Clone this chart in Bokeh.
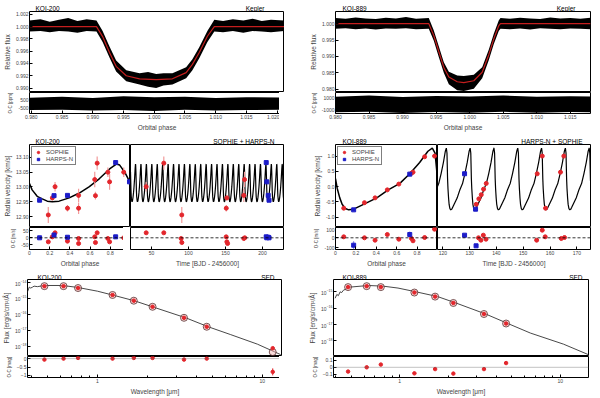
import numpy as np
from bokeh.plotting import figure
from bokeh.layouts import row, column
from bokeh.models import (Range1d, FixedTicker, Legend, LegendItem,
                          BasicTickFormatter, PrintfTickFormatter, Span)
from bokeh.core.properties import value
from bokeh.embed import file_html
from bokeh.resources import INLINE

# ---------------- data ----------------
# Row 1: phase-folded Kepler transits
lc200_phase = [0.9797, 0.9906, 0.9916, 0.9927, 0.9938, 0.99545, 0.99761, 1.00032, 1.00296, 1.00519, 1.00621, 1.00735, 1.00865, 1.00978, 1.0212]
lc200_model = [1.0, 1.0, 0.99838, 0.99583, 0.99354, 0.99201, 0.99151, 0.99136, 0.99151, 0.99252, 0.99385, 0.99583, 0.99843, 1.0, 1.0]
lc200_env_phase = [0.9797, 0.9815, 0.9830, 0.9845, 0.9860, 0.9875, 0.9890, 0.9906, 0.9916, 0.9927, 0.9938, 0.99545, 0.99761, 0.9990, 1.00032, 1.0015, 1.00296, 1.00519, 1.00621, 1.00735, 1.00865, 1.00978, 1.0112, 1.0128, 1.0145, 1.0160, 1.0175, 1.0190, 1.0212]
lc200_hi = [1.0010, 1.0012, 1.0008, 1.0011, 1.0014, 1.0009, 1.0012, 1.0010, 0.9993, 0.9968, 0.9945, 0.9929, 0.9924, 0.9926, 0.9923, 0.9924, 0.9924, 0.9934, 0.9947, 0.9967, 0.9993, 1.0011, 1.0009, 1.0012, 1.0010, 1.0013, 1.0009, 1.0011, 1.0010]
lc200_lo = [0.9992, 0.9993, 0.9991, 0.9993, 0.9992, 0.9990, 0.9993, 0.9992, 0.9975, 0.9950, 0.9927, 0.9911, 0.9906, 0.9902, 0.9900, 0.9904, 0.9906, 0.9916, 0.9929, 0.9949, 0.9975, 0.9992, 0.9991, 0.9993, 0.9990, 0.9993, 0.9992, 0.9991, 0.9993]
lc200_res_phase = [0.9797, 0.9850, 0.9900, 0.9950, 1.0000, 1.0050, 1.0100, 1.0150, 1.0212]
lc200_res_hi = [750, 850, 700, 900, 800, 850, 700, 800, 750]
lc200_res_lo = [-700, -650, -750, -700, -800, -650, -750, -700, -650]
lc200_xticks = [0.980, 0.985, 0.990, 0.995, 1.000, 1.005, 1.010, 1.015, 1.020]
lc200_yticks = [0.990, 0.992, 0.994, 0.996, 0.998, 1.000, 1.002]
lc200_res_ticks = [-500, 500]

lc889_phase = [0.980, 0.9939, 0.99465, 0.99539, 0.99614, 0.99689, 0.99814, 0.99912, 1.00061, 1.00186, 1.00285, 1.00359, 1.00434, 1.00459, 1.018]
lc889_model = [1.0, 1.0, 0.99634, 0.99148, 0.98663, 0.98372, 0.98227, 0.98198, 0.98256, 0.98517, 0.99052, 0.99535, 0.99942, 1.0, 1.0]
lc889_env_phase = [0.980, 0.9815, 0.9830, 0.9845, 0.9860, 0.9875, 0.9890, 0.9905, 0.9920, 0.9939, 0.99465, 0.99539, 0.99614, 0.99689, 0.99814, 0.99912, 1.00061, 1.00186, 1.00285, 1.00359, 1.00434, 1.00459, 1.0060, 1.0075, 1.0090, 1.0105, 1.0120, 1.0135, 1.0150, 1.0165, 1.018]
lc889_hi = [1.0017, 1.0015, 1.0019, 1.0016, 1.0014, 1.0018, 1.0016, 1.0020, 1.0015, 1.0017, 0.9979, 0.9931, 0.9882, 0.9853, 0.9842, 0.9840, 0.9844, 0.9867, 0.9921, 0.9969, 1.0010, 1.0017, 1.0015, 1.0018, 1.0016, 1.0014, 1.0019, 1.0016, 1.0017, 1.0015, 1.0018]
lc889_lo = [0.9984, 0.9986, 0.9983, 0.9985, 0.9982, 0.9985, 0.9984, 0.9986, 0.9983, 0.9984, 0.9948, 0.9898, 0.9850, 0.9815, 0.9797, 0.9794, 0.9801, 0.9833, 0.9889, 0.9938, 0.9978, 0.9984, 0.9983, 0.9985, 0.9982, 0.9986, 0.9984, 0.9983, 0.9985, 0.9984, 0.9983]
lc889_res_phase = [0.980, 0.985, 0.990, 0.995, 1.000, 1.005, 1.010, 1.015, 1.018]
lc889_res_hi = [1300, 1500, 1250, 1450, 1350, 1500, 1300, 1400, 1350]
lc889_res_lo = [-1400, -1300, -1500, -1350, -1450, -1300, -1450, -1350, -1400]
lc889_xticks = [0.980, 0.985, 0.990, 0.995, 1.000, 1.005, 1.010, 1.015]
lc889_yticks = [0.980, 0.985, 0.990, 0.995, 1.000]
lc889_res_ticks = [-1000, 1000]

# Row 2: radial velocities
P200 = 7.3409
T0_200 = 0.0
rv200_mph = [0.0, 0.026, 0.076, 0.126, 0.176, 0.226, 0.293, 0.393, 0.493, 0.593, 0.693, 0.793, 0.860, 0.893, 0.943, 1.0]
rv200_mv = [13.0119, 12.9903, 12.9687, 12.9603, 12.9526, 12.9506, 12.9526, 12.9635, 12.9797, 13.0010, 13.0281, 13.0603, 13.0765, 13.0732, 13.0494, 13.0119]
rv200_s_ph = [0.186, 0.226, 0.253, 0.376, 0.486, 0.486, 0.646, 0.653, 0.670, 0.776, 0.793, 0.933]
rv200_s_v = [12.9064, 12.9635, 13.0010, 12.9290, 12.9719, 12.9290, 13.0248, 12.9710, 13.0797, 13.0494, 13.0171, 13.0494]
rv200_s_e = [0.027, 0.009, 0.016, 0.011, 0.022, 0.019, 0.026, 0.013, 0.022, 0.016, 0.026, 0.016]
rv200_h_ph = [0.10, 0.243, 0.376, 0.853, 0.99]
rv200_h_v = [12.9558, 12.9710, 12.9719, 13.0816, 13.0171]
rv200_s_t = [42.8, 66.6, 90.9, 151.0, 151.8, 175.7, 174.7]
rv200_s_tv = [13.0010, 13.0797, 12.9064, 12.9290, 12.9635, 13.0248, 12.9719]
rv200_s_te = [0.016, 0.022, 0.027, 0.011, 0.009, 0.026, 0.022]
rv200_h_t = [205.0, 205.8, 207.7, 208.8]
rv200_h_tv = [13.0816, 13.0171, 12.9719, 12.9558]
res200_s_ph = [0.186, 0.226, 0.253, 0.376, 0.486, 0.486, 0.646, 0.653, 0.670, 0.776, 0.793, 0.933]
res200_s = [-29, 7, 36, -24, -5, -41, 7, -34, 36, -5, -29, 0]
res200_h_ph = [0.10, 0.243, 0.376, 0.853, 0.99]
res200_h = [0, 20, 4, 7, 0]
res200_s_t = [42.8, 66.6, 90.0, 91.0, 150.9, 151.8, 152.8, 174.7, 176.0]
res200_s_tr = [36, 36, -5, -34, 7, -29, -41, -5, 0]
res200_h_t = [205.0, 205.8, 207.7, 208.8]
res200_h_tr = [7, 0, 4, 0]
rv200_yticks = [12.90, 12.95, 13.00, 13.05, 13.10]
rv200_tticks = [50, 100, 150, 200]
res200_ticks = [-50, 0, 50]

P889 = 8.8849
T0_889 = 112.87
rv889_mph = [0.0, 0.0165, 0.0417, 0.065, 0.097, 0.129, 0.178, 0.275, 0.405, 0.517, 0.631, 0.728, 0.825, 0.906, 0.949, 0.976, 1.0]
rv889_mv = [0.2627, -0.0538, -0.3703, -0.5823, -0.7184, -0.7627, -0.7405, -0.5823, -0.3703, -0.1076, 0.1044, 0.4209, 0.7880, 1.1582, 1.2627, 1.095, 0.2627]
rv889_s_ph = [0.081, 0.284, 0.388, 0.508, 0.621, 0.745, 0.760, 0.874, 0.971]
rv889_s_v = [-0.709, -0.528, -0.370, -0.108, 0.082, 0.440, 0.472, 0.978, 1.0]
rv889_h_ph = [0.178, 0.728]
rv889_h_v = [-0.763, 0.408]
rv889_s_t = [132.46, 133.43, 134.33, 135.19, 136.19, 155.22, 157.1, 158.32, 163.9, 165.15]
rv889_s_tv = [-0.582, -0.402, -0.266, -0.085, 0.104, 0.420, 1.0, -0.709, 0.472, 1.0]
rv889_h_t = [128.1, 132.2]
rv889_h_tv = [0.421, -0.741]
res889_s_ph = [0.081, 0.284, 0.388, 0.508, 0.621, 0.745, 0.760, 0.874, 0.971]
res889_s = [10, 0, -24, 33, -14, -7, -30, 3, 86]
res889_h_ph = [0.178, 0.728]
res889_h = [-74, 33]
res889_h_e = [40, 30]
res889_s_t = [133.3, 134.2, 135.1, 136.1, 155.0, 157.1, 158.2, 164.2, 165.4]
res889_s_tr = [0, -24, 26, -14, -24, 76, 10, -7, 3]
res889_h_t = [128.1, 132.4]
res889_h_tr = [26, -80]
rv889_yticks = [-1.0, -0.5, 0.0, 0.5, 1.0]
rv889_tticks = [120, 130, 140, 150, 160, 170]
res889_ticks = [-100, 0, 100]
phase_ticks = [0, 0.2, 0.4, 0.6, 0.8]

# Row 3: spectral energy distributions (wavelength in micron)
sed200_wl = [0.477, 0.623, 0.763, 1.235, 1.662, 2.159, 3.35, 4.6, 11.56]
sed200_flux = [5.77e-15, 5.77e-15, 4.39e-15, 1.61e-15, 7.05e-16, 2.92e-16, 5.93e-17, 1.63e-17, 7.3e-19]
sed200_band = [5.77e-15, 5.77e-15, 4.39e-15, 1.61e-15, 7.05e-16, 2.92e-16, 5.93e-17, 1.63e-17, 4.2e-19]
sed200_mwl = [0.373, 0.380, 0.386, 0.394, 0.404, 0.413, 0.433, 0.475, 0.614, 0.756, 1.0, 1.233, 1.669, 2.154, 3.43, 4.69, 6.43, 9.33, 12.91]
sed200_mlogf = [-14.699, -14.496, -14.299, -14.358, -14.30, -14.239, -14.27, -14.197, -14.197, -14.316, -14.555, -14.794, -15.152, -15.534, -16.227, -16.788, -17.284, -17.881, -18.537]
sed200_res = [-0.06, 0.0, 0.04, 0.0, 0.04, 0.04, -0.06, 0.0, -0.79]
sed200_res_e = [0.02, 0.02, 0.02, 0.02, 0.02, 0.02, 0.02, 0.02, 0.21]
sed200_yticks = [1e-18, 1e-17, 1e-16, 1e-15, 1e-14]
sed200_res_ticks = [-1.0, -0.5, 0.0]

sed889_wl = [0.477, 0.623, 0.763, 1.235, 1.662, 2.159, 3.35, 4.6]
sed889_flux = [1.95e-15, 2.23e-15, 1.95e-15, 9.1e-16, 5.12e-16, 2.09e-16, 4.42e-17, 1.16e-17]
sed889_mwl = [0.396, 0.406, 0.415, 0.4255, 0.4355, 0.446, 0.4677, 0.491, 0.637, 0.788, 0.976, 1.267, 1.725, 2.239, 3.433, 4.72, 6.51, 10.48, 14.96]
sed889_mlogf = [-15.390, -15.157, -15.233, -15.0, -15.041, -14.901, -14.808, -14.709, -14.610, -14.651, -14.767, -15.0, -15.291, -15.680, -16.355, -16.936, -17.517, -18.198, -18.837]
sed889_res = [-0.062, 0.0, 0.04, -0.088, -0.026, -0.092, -0.026, 0.062]
sed889_yticks = [1e-18, 1e-17, 1e-16, 1e-15]
sed889_res_ticks = [-0.1, 0.0, 0.1]
sed_xticks = [1, 10]
sed_xminor = [0.4, 0.5, 0.6, 0.7, 0.8, 0.9, 2, 3, 4, 5, 6, 7, 8, 9]

# ---------------- styling helpers ----------------
FONT = "Liberation Sans"
RED = "#e3262c"
PINK = "#f29a9a"
BLUE = "#1c1cc8"
MRED = "#c41e1e"
PAGE_W = 584


def mk(fw, fh, xr, yr, left=0, right=0, top=0, bottom=0, xt="linear", yt="linear",
       xaxis=True, yaxis=True):
    p = figure(frame_width=fw, frame_height=fh, x_range=xr, y_range=yr,
               x_axis_type=xt, y_axis_type=yt,
               x_axis_location="below" if xaxis else None,
               y_axis_location="left" if yaxis else None,
               min_border_left=left, min_border_right=right,
               min_border_top=top, min_border_bottom=bottom,
               output_backend="svg", toolbar_location=None)
    p.grid.visible = False
    p.outline_line_color = "black"
    p.outline_line_width = 1
    p.background_fill_color = "white"
    p.border_fill_color = "white"
    for ax in p.axis:
        ax.major_label_text_font = FONT
        ax.major_label_text_font_size = "5px"
        ax.axis_label_text_font = FONT
        ax.axis_label_text_font_size = "6.5px"
        ax.axis_label_text_font_style = "normal"
        ax.major_tick_in = 3
        ax.major_tick_out = 0
        ax.minor_tick_in = 2
        ax.minor_tick_out = 0
        ax.major_label_standoff = 1
        ax.axis_label_standoff = 2
        ax.axis_line_color = None
    return p


def ylab(p, text, ticks, size="6.5px", fmt=None):
    p.yaxis.ticker = FixedTicker(ticks=ticks)
    p.yaxis.axis_label = text
    p.yaxis.axis_label_text_font_size = size
    if fmt:
        p.yaxis.formatter = PrintfTickFormatter(format=fmt)


def xlab(p, text, ticks, minor=None, fmt=None):
    p.xaxis.ticker = FixedTicker(ticks=ticks, minor_ticks=minor or [])
    p.xaxis.axis_label = text
    if fmt:
        p.xaxis.formatter = PrintfTickFormatter(format=fmt)


def strip(h, items):
    """A thin text-only band holding the panel titles that sit above the frames."""
    s = figure(frame_width=PAGE_W, frame_height=h, x_range=Range1d(0, PAGE_W),
               y_range=Range1d(0, h), min_border=0, x_axis_location=None,
               y_axis_location=None, output_backend="svg", toolbar_location=None)
    s.outline_line_color = None
    s.grid.visible = False
    s.border_fill_color = "white"
    for x, t, al in items:
        s.text(x=[x], y=[1], text=[t], text_align=al, text_baseline="bottom",
               text_font=value(FONT), text_font_size=value("6.5px"), text_color="black")
    return s


def errbars(p, x, y, e, color, width=1):
    x = np.asarray(x, float); y = np.asarray(y, float); e = np.asarray(e, float)
    p.segment(x0=x, y0=y - e, x1=x, y1=y + e, line_color=color, line_width=width)


# ---------------- Row 1 ----------------
x1L = Range1d(0.9797, 1.0212)
p1L = mk(255, 81, x1L, Range1d(0.98928, 1.00246), left=22, xaxis=False)
p1L.varea(x=lc200_env_phase, y1=lc200_lo, y2=lc200_hi, fill_color="black")
p1L.line(lc200_phase, lc200_model, line_color=MRED, line_width=1.2)
ylab(p1L, "Relative flux", lc200_yticks, fmt="%.3f")
r1L = mk(255, 21, x1L, Range1d(-1100, 1350), left=22, bottom=16)
r1L.varea(x=lc200_res_phase, y1=lc200_res_lo, y2=lc200_res_hi, fill_color="black")
ylab(r1L, "O-C [ppm]", lc200_res_ticks, "4.5px", fmt="%d")
xlab(r1L, "Orbital phase", lc200_xticks, fmt="%.3f")

x1R = Range1d(0.980, 1.018)
p1R = mk(255, 81, x1R, Range1d(0.97898, 1.0037), left=51, right=1, xaxis=False)
p1R.varea(x=lc889_env_phase, y1=lc889_lo, y2=lc889_hi, fill_color="black")
p1R.line(lc889_phase, lc889_model, line_color=MRED, line_width=1.2)
ylab(p1R, "Relative flux", lc889_yticks, fmt="%.3f")
r1R = mk(255, 21, x1R, Range1d(-1600, 2036), left=51, right=1, bottom=16)
r1R.varea(x=lc889_res_phase, y1=lc889_res_lo, y2=lc889_res_hi, fill_color="black")
ylab(r1R, "O-C [ppm]", lc889_res_ticks, "4.5px", fmt="%d")
xlab(r1R, "Orbital phase", lc889_xticks, fmt="%.3f")


# ---------------- Row 2 ----------------
def rv_block(left, right_border, fw_ph, fw_t, yr, yres, mph, mv, P, T0, trange,
             s_ph, s_v, s_e, h_ph, h_v, s_t, s_tv, s_te, h_t, h_tv,
             r_s_ph, r_s, r_h_ph, r_h, r_h_e, r_s_t, r_s_tr, r_h_t, r_h_tr,
             yticks, rticks, tticks, yfmt):
    xph = Range1d(0.0, 1.0)
    xt = Range1d(*trange)
    a = mk(fw_ph, 83, xph, yr, left=left, xaxis=False)
    a.line(mph, mv, line_color="black", line_width=1.5)
    errbars(a, s_ph, s_v, s_e, PINK, 1.2)
    rs = a.scatter(s_ph, s_v, size=4, color=RED)
    rh = a.scatter(h_ph, h_v, size=4, marker="square", color=BLUE)
    ylab(a, "Radial velocity [km/s]", yticks, fmt=yfmt)
    leg = Legend(items=[LegendItem(label="SOPHIE", renderers=[rs]),
                        LegendItem(label="HARPS-N", renderers=[rh])],
                 location="top_left")
    leg.label_text_font = FONT
    leg.label_text_font_size = "6px"
    leg.label_height = 6
    leg.glyph_height = 6
    leg.glyph_width = 8
    leg.spacing = 1
    leg.padding = 2
    leg.margin = 2
    leg.label_standoff = 4
    leg.border_line_color = "black"
    leg.border_line_width = 0.7
    a.add_layout(leg)

    b = mk(fw_ph, 22, xph, yres, left=left, bottom=16)
    b.add_layout(Span(location=0, dimension="width", line_color="black",
                      line_dash="3 2", line_width=0.8))
    errbars(b, r_s_ph, r_s, [7] * len(r_s), PINK, 1.0)
    errbars(b, r_h_ph, r_h, r_h_e, "#7f7fe8", 1.0)
    b.scatter(r_s_ph, r_s, size=4, color=RED)
    b.scatter(r_h_ph, r_h, size=4, marker="square", color=BLUE)
    ylab(b, "O-C [m/s]", rticks, "4.5px", fmt="%d")
    xlab(b, "Orbital phase", phase_ticks)

    c = mk(fw_t, 83, xt, yr, right=right_border, xaxis=False, yaxis=False)
    tg = np.linspace(trange[0], trange[1], 4000)
    vg = np.interp(((tg - T0) / P) % 1.0, mph, mv)
    c.line(tg, vg, line_color="black", line_width=1.2)
    errbars(c, s_t, s_tv, s_te, PINK, 1.2)
    c.scatter(s_t, s_tv, size=4, color=RED)
    c.scatter(h_t, h_tv, size=4, marker="square", color=BLUE)

    d = mk(fw_t, 22, xt, yres, right=right_border, bottom=16, yaxis=False)
    d.add_layout(Span(location=0, dimension="width", line_color="black",
                      line_dash="3 2", line_width=0.8))
    errbars(d, r_s_t, r_s_tr, [7] * len(r_s_tr), PINK, 1.0)
    d.scatter(r_s_t, r_s_tr, size=4, color=RED)
    d.scatter(r_h_t, r_h_tr, size=4, marker="square", color=BLUE)
    xlab(d, "Time [BJD - 2456000]", tticks)
    return row(column(a, b), column(c, d))


blk2L = rv_block(22, 0, 101, 154, Range1d(12.8645, 13.142), Range1d(-84, 74),
                 rv200_mph, rv200_mv, P200, T0_200, (21.6, 229.7),
                 rv200_s_ph, rv200_s_v, rv200_s_e, rv200_h_ph, rv200_h_v,
                 rv200_s_t, rv200_s_tv, rv200_s_te, rv200_h_t, rv200_h_tv,
                 res200_s_ph, res200_s, res200_h_ph, res200_h, [6] * 5,
                 res200_s_t, res200_s_tr, res200_h_t, res200_h_tr,
                 rv200_yticks, res200_ticks, rv200_tticks, "%.2f")
blk2R = rv_block(51, 1, 102, 153, Range1d(-1.342, 1.38), Range1d(-117, 103),
                 rv889_mph, rv889_mv, P889, T0_889, (118.0, 175.1),
                 rv889_s_ph, rv889_s_v, [0.03] * 9, rv889_h_ph, rv889_h_v,
                 rv889_s_t, rv889_s_tv, [0.03] * 10, rv889_h_t, rv889_h_tv,
                 res889_s_ph, res889_s, res889_h_ph, res889_h, res889_h_e,
                 res889_s_t, res889_s_tr, res889_h_t, res889_h_tr,
                 rv889_yticks, res889_ticks, rv889_tticks, "%.1f")


# ---------------- Row 3 ----------------
def sed_block(left, right_border, xr, yr, yres, wl, flux, band, mwl, mlogf, res, res_e,
              yticks, rticks):
    s = mk(255, 77, xr, yr, left=left, right=right_border, xt="log", yt="log",
           xaxis=False)
    s.line(mwl, [10.0 ** v for v in mlogf], line_color="#333333", line_width=0.9)
    s.scatter(wl, band, size=7, marker="circle", line_color="#5a3030",
              fill_color="#f2b8b8", fill_alpha=0.5, line_width=0.8)
    s.scatter(wl, flux, size=3.5, color=RED)
    s.yaxis.ticker = FixedTicker(ticks=yticks)
    s.yaxis.axis_label = "Flux [erg/s/cm²/Å]"

    r = mk(255, 21, xr, yres, left=left, right=right_border, bottom=18, xt="log")
    r.add_layout(Span(location=0, dimension="width", line_color="#666666",
                      line_dash="1 1", line_width=0.8))
    errbars(r, wl, res, res_e, RED, 1.0)
    r.scatter(wl, res, size=3.5, color=RED)
    ylab(r, "O-C [mag]", rticks, "4.5px")
    xlab(r, "Wavelength [μm]", sed_xticks, sed_xminor)
    r.xaxis.formatter = BasicTickFormatter()
    return column(s, r)


blk3L = sed_block(22, 0, Range1d(0.3767, 13.25), Range1d(10 ** -18.657, 10 ** -13.821),
                  Range1d(-1.125, 0.125), sed200_wl, sed200_flux, sed200_band,
                  sed200_mwl, sed200_mlogf, sed200_res, sed200_res_e,
                  sed200_yticks, sed200_res_ticks)
blk3R = sed_block(51, 1, Range1d(0.387, 15.0), Range1d(10 ** -18.953, 10 ** -14.244),
                  Range1d(-0.149, 0.158), sed889_wl, sed889_flux, sed889_flux,
                  sed889_mwl, sed889_mlogf, sed889_res, [0.01] * 8,
                  sed889_yticks, sed889_res_ticks)

# panel titles above the frames (x in page pixels minus the 8px margin)
strip1 = strip(11, [(35, "KOI-200", "left"), (264, "Kepler", "right"),
                    (342, "KOI-889", "left"), (575, "Kepler", "right")])
strip2 = strip(11, [(35, "KOI-200", "left"), (274, "SOPHIE + HARPS-N", "right"),
                    (342, "KOI-889", "left"), (582, "HARPS-N + SOPHIE", "right")])
strip3 = strip(10, [(37, "KOI-200", "left"), (274, "SED", "right"),
                    (342, "KOI-889", "left"), (582, "SED", "right")])

layout = column(
    strip1,
    row(column(p1L, r1L), column(p1R, r1R)),
    strip2,
    row(blk2L, blk2R),
    strip3,
    row(blk3L, blk3R),
)

open("out.html", "w").write(file_html(layout, INLINE))
